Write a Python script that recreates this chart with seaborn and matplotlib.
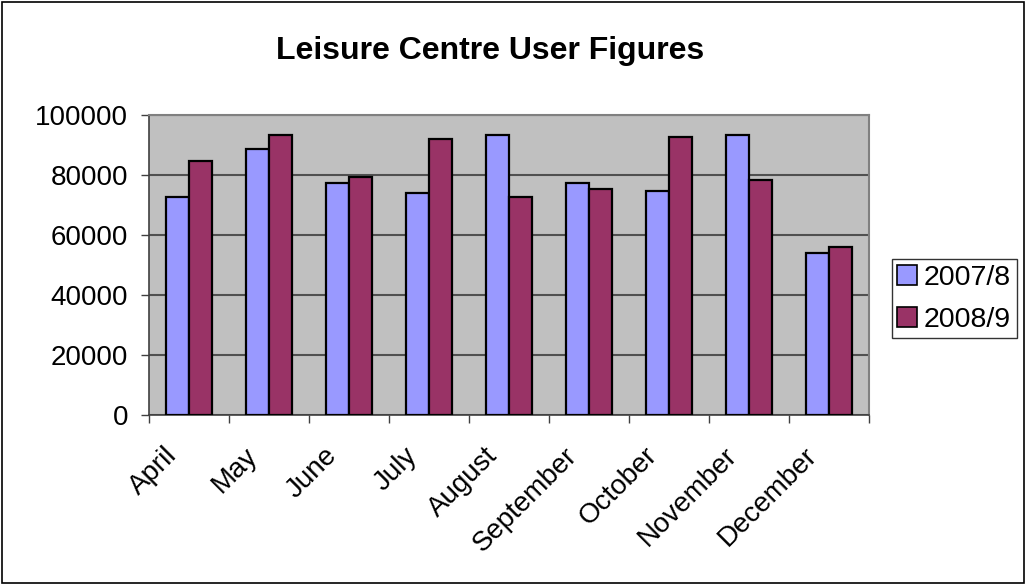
import pandas as pd
import seaborn as sns
import matplotlib.pyplot as plt
from matplotlib.patches import Rectangle
from matplotlib.transforms import ScaledTranslation

months = ["April", "May", "June", "July", "August", "September", "October", "November", "December"]
users_2007_8 = [72700, 88700, 77200, 73900, 93300, 77200, 74700, 93300, 54000]
users_2008_9 = [84500, 93300, 79200, 92000, 72700, 75300, 92700, 78100, 56000]
years = ["2007/8", "2008/9"]

df = pd.DataFrame({
    "month": months * 2,
    "users": users_2007_8 + users_2008_9,
    "year": [years[0]] * len(months) + [years[1]] * len(months),
})

sns.set_style("white")
plt.rcParams['font.family'] = ['Liberation Sans', 'DejaVu Sans']
plt.rcParams['font.size'] = 20
plt.rcParams['text.color'] = 'black'
plt.rcParams['xtick.color'] = 'black'
plt.rcParams['ytick.color'] = 'black'

fig = plt.figure(figsize=(10.26, 5.85), dpi=100)
ax = fig.add_axes([0.1452, 0.291, 0.7018, 0.513])
ax.set_facecolor('#C0C0C0')

sns.barplot(data=df, x='month', y='users', hue='year', palette=['#9999FF', '#993366'],
            saturation=1, width=0.575, edgecolor='black', linewidth=1.6, ax=ax, zorder=3)

ax.set_ylim(0, 100000)
ax.set_xlim(-0.5, len(months) - 0.5)
ax.set_yticks(range(0, 100001, 20000))
ax.set_yticklabels([str(v) for v in range(0, 100001, 20000)], fontsize=20)
ax.yaxis.grid(True, color='#505050', linewidth=1.5, zorder=0)
ax.set_axisbelow(True)
ax.set_xlabel('')
ax.set_ylabel('')

ax.set_xticks(range(len(months)))
ax.set_xticklabels(months, rotation=45, ha='right', va='top', rotation_mode='anchor', fontsize=20)
ax.tick_params(axis='x', which='major', length=0, pad=20)
shift = ScaledTranslation(-25 / 100, 0, fig.dpi_scale_trans)
for lbl in ax.get_xticklabels():
    lbl.set_transform(lbl.get_transform() + shift)
ax.set_xticks([i - 0.5 for i in range(len(months) + 1)], minor=True)
ax.tick_params(axis='x', which='minor', length=6, width=1, color='#404040', direction='out', bottom=True)
ax.tick_params(axis='y', length=6, width=1, color='#404040', direction='out', left=True, pad=9)

for side in ['top', 'right']:
    ax.spines[side].set_color('#808080')
    ax.spines[side].set_linewidth(1.5)
for side in ['left', 'bottom']:
    ax.spines[side].set_color('#404040')
    ax.spines[side].set_linewidth(1.2)

fig.text(490 / 1026, 1 - 59 / 585, 'Leisure Centre User Figures', fontsize=23,
         fontweight='bold', ha='center', va='baseline')

leg = ax.legend(loc='center left', bbox_to_anchor=(1.0315, 0.386), frameon=True, fancybox=False,
                edgecolor='black', fontsize=20.5, handlelength=0.68, handleheight=0.68,
                handletextpad=0.25, borderpad=0.2, labelspacing=0.55, borderaxespad=0)
leg.get_frame().set_linewidth(1)
for h in leg.legend_handles:
    h.set_edgecolor('black')
    h.set_linewidth(1.2)

fig.patches.append(Rectangle((0.002, 0.003), 0.996, 0.994, transform=fig.transFigure,
                             fill=False, edgecolor='black', linewidth=1.2))

plt.savefig('out.png', dpi=100)
